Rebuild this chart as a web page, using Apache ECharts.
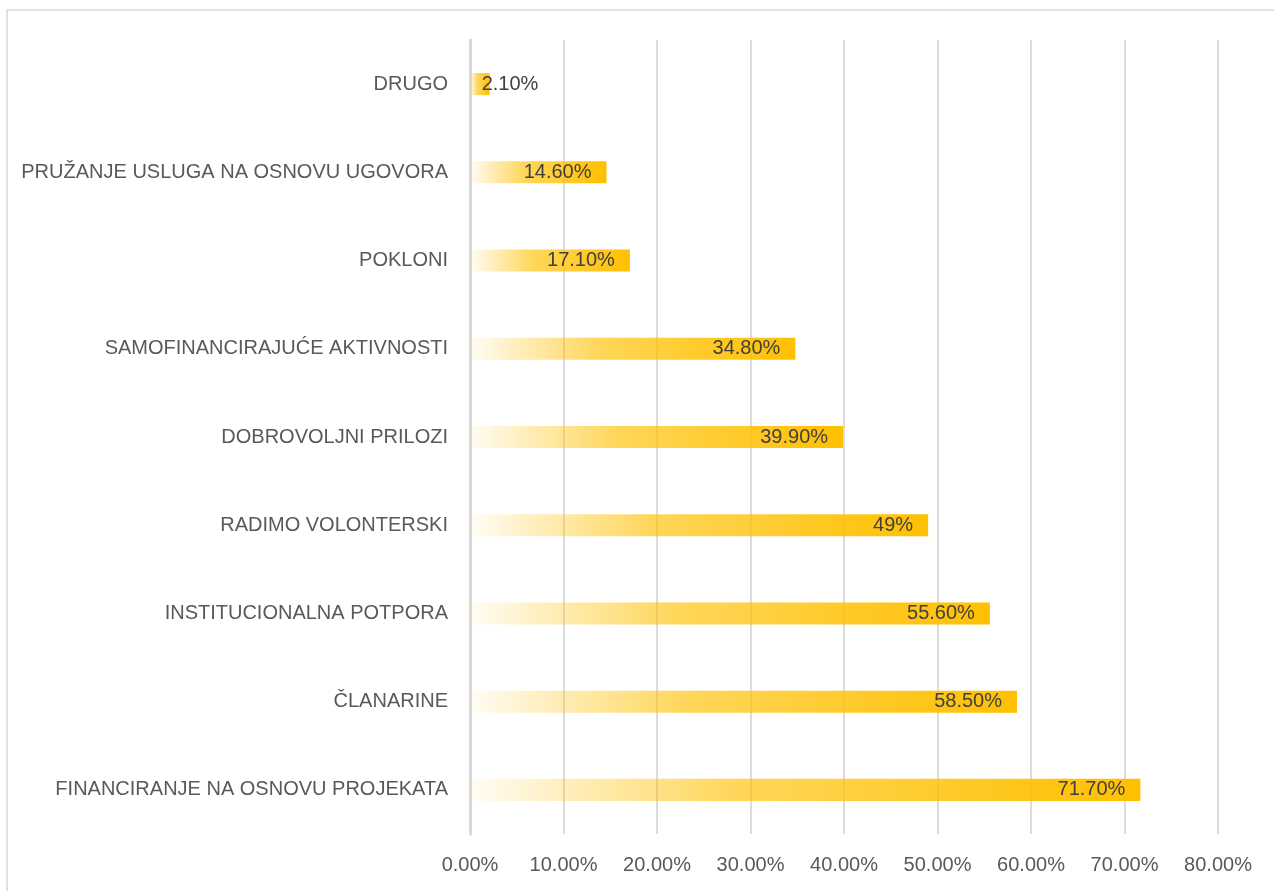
<!DOCTYPE html>
<html>
<head>
<meta charset="utf-8">
<script src="https://cdn.jsdelivr.net/npm/echarts@6/dist/echarts.min.js"></script>
<style>
html,body{margin:0;padding:0;background:#fff;}
#chart{width:1274px;height:891px;}
</style>
</head>
<body>
<div id="chart"></div>
<script>
const categories = ['FINANCIRANJE NA OSNOVU PROJEKATA','ČLANARINE','INSTITUCIONALNA POTPORA','RADIMO VOLONTERSKI','DOBROVOLJNI PRILOZI','SAMOFINANCIRAJUĆE AKTIVNOSTI','POKLONI','PRUŽANJE USLUGA NA OSNOVU UGOVORA','DRUGO'];
const values = [71.7, 58.5, 55.6, 49, 39.9, 34.8, 17.1, 14.6, 2.1];
const valueLabels = ['71.70%','58.50%','55.60%','49%','39.90%','34.80%','17.10%','14.60%','2.10%'];
const xTicks = [0,10,20,30,40,50,60,70,80];

const chart = echarts.init(document.getElementById('chart'));
const font = 'Liberation Sans';
const grad = new echarts.graphic.LinearGradient(0,0,1,0,[
  {offset:0, color:'rgba(255,192,0,0.04)'},
  {offset:0.4, color:'rgba(255,192,0,0.65)'},
  {offset:1, color:'rgba(255,192,0,1)'}
]);
chart.setOption({
  animation:false,
  textStyle:{fontFamily:font},
  graphic:[{type:'rect', shape:{x:7,y:10,width:1400,height:1000}, style:{fill:'none', stroke:'#D9D9D9', lineWidth:1.5}, silent:true}],
  grid:{left:470, right:56, top:40, bottom:57, containLabel:false},
  xAxis:{
    type:'value', min:0, max:80, interval:10,
    axisLine:{show:false}, axisTick:{show:false},
    splitLine:{show:true, lineStyle:{color:'#D0D0D0', width:1.5}},
    axisLabel:{color:'#595959', fontSize:20, margin:21, fontFamily:font,
      formatter: v => xTicks.includes(v) ? v.toFixed(2)+'%' : ''}
  },
  yAxis:{
    type:'category', data:categories,
    axisLine:{show:true, lineStyle:{color:'#D9D9D9', width:3}},
    axisTick:{show:false},
    axisLabel:{color:'#595959', fontSize:20, margin:22, fontFamily:font}
  },
  series:[{
    type:'bar', barWidth:'25%',
    data: values.map((v,i)=> i===8 ? {value:v, label:{position:'right', distance:-8}} : v),
    itemStyle:{color:grad},
    label:{show:true, position:'insideRight', distance:15, color:'#404040', fontSize:20, fontFamily:font,
      formatter: p => valueLabels[p.dataIndex]}
  }]
});
</script>
</body>
</html>
